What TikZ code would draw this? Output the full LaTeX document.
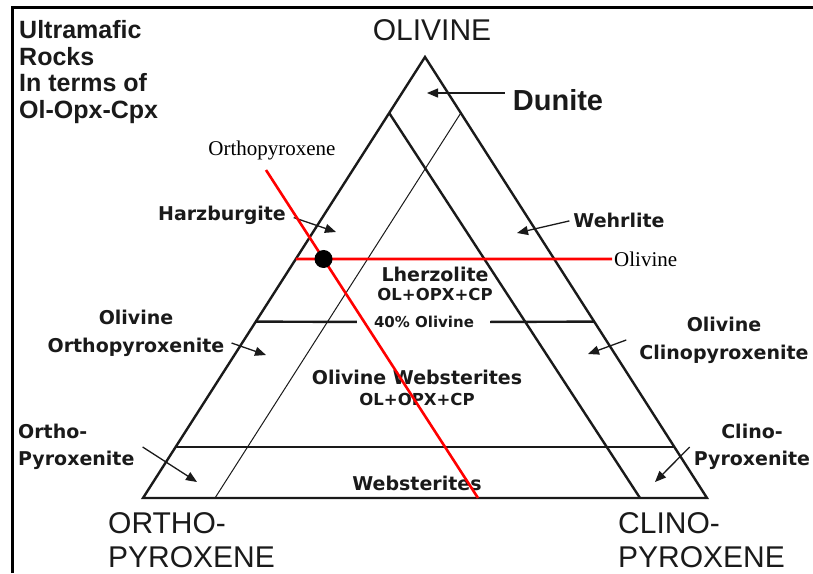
\documentclass[tikz,border=0pt]{standalone}
\usepackage{fontspec}
\setmainfont{Liberation Sans}
\newfontfamily\vfont{DejaVu Sans}
\newfontfamily\tfont{Liberation Serif}
\usepackage{tikz}
\usetikzlibrary{arrows.meta,calc,positioning}
\definecolor{cInk}{HTML}{1A1A1A}
\definecolor{cRed}{HTML}{FF0000}
\tikzset{
  >={Triangle[length=11pt,width=9pt]},
  frame/.style  ={black,line width=3pt},
  edge/.style   ={cInk,line width=2.4pt},
  fine/.style   ={cInk,line width=1pt},
  pointer/.style={->,cInk,line width=1.3pt},
  redline/.style={cRed,line width=2.6pt},
  big/.style    ={text=cInk,inner sep=0pt,align=left,font=\fontsize{30}{34}\selectfont},
  rock/.style   ={text=cInk,inner sep=0pt,align=center,font=\vfont\bfseries\fontsize{19}{28}\selectfont},
  mix/.style    ={text=cInk,inner sep=0pt,font=\vfont\bfseries\fontsize{16.5}{20}\selectfont},
  redtag/.style ={black,inner sep=0pt,font=\tfont\fontsize{21}{24}\selectfont},
  dot/.style    ={circle,fill=black,inner sep=0pt,minimum size=18pt},
}
\begin{document}
\begin{tikzpicture}[x=1pt,y=-1pt]
  \useasboundingbox (0,0) rectangle (813,573);
  \draw[frame] (12,573) -- (12,7) -- (813,7);

  % corners
  \coordinate (ol)  at (425,57);
  \coordinate (opx) at (143,498);
  \coordinate (cpx) at (707,498);
  \draw[edge,line join=miter] (ol) -- (opx) -- (cpx) -- cycle;

  % field boundaries
  \coordinate (d1) at ($(ol)!0.127!(opx)$);
  \coordinate (d2) at ($(ol)!0.127!(cpx)$);
  \coordinate (b1) at (640,498);
  \coordinate (b2) at (215,498);
  \draw[edge] (d1) -- (b1);
  \draw[fine] (d2) -- (b2);
  \coordinate (t1) at ($(opx)!0.115!(ol)$);
  \coordinate (t2) at ($(cpx)!0.115!(ol)$);
  \draw[edge] (t1) -- (t2);
  \coordinate (f1) at ($(opx)!0.4!(ol)$);
  \coordinate (f2) at ($(cpx)!0.4!(ol)$);
  \node[mix,font=\vfont\bfseries\fontsize{15}{18}\selectfont] (forty) at (424,322) {40\% Olivine};
  \draw[edge,shorten >=17pt] (f1) -- (forty.west);
  \draw[edge,shorten >=16pt] (f2) -- (forty.east);

  % end members and title
  \node[big] (olv) at (432,30) {OLIVINE};
  \node[big,anchor=west] (ortho) at (108,540) {ORTHO-\\PYROXENE};
  \node[big,anchor=west] (clino) at (618,540) {CLINO-\\PYROXENE};
  \node[big,anchor=west,font=\bfseries\fontsize{25}{26.5}\selectfont] (title) at (19,72)
    {Ultramafic\\Rocks\\In terms of\\Ol-Opx-Cpx};

  % rock names
  \node[big,font=\bfseries\fontsize{29}{34}\selectfont] (dun) at (558,100) {Dunite};
  \node[rock] (harz) at (222,215) {Harzburgite};
  \node[rock] (wehr) at (619,220) {Wehrlite};
  \node[rock] (lherz) at (435,274) {Lherzolite};
  \node[mix,below=6pt of lherz] (mix1) {OL+OPX+CP};
  \node[rock] (olweb) at (417,377) {Olivine Websterites};
  \node[mix,below=8pt of olweb] (mix2) {OL+OPX+CP};
  \node[rock] (webs) at (417,483) {Websterites};
  \node[rock] (oopx) at (136,333) {Olivine\\Orthopyroxenite};
  \node[rock] (ocpx) at (724,340) {Olivine\\Clinopyroxenite};
  \node[rock,align=left,anchor=west,font=\vfont\bfseries\fontsize{19}{27}\selectfont] (opxr) at (18,447) {Ortho-\\Pyroxenite};
  \node[rock,font=\vfont\bfseries\fontsize{19}{27}\selectfont] (cpxr) at (752,447) {Clino-\\Pyroxenite};

  % pointers
  \coordinate (dunTip)  at (427,93);
  \coordinate (harzTip) at (336,232);
  \coordinate (wehrTip) at (517,233);
  \coordinate (oopxTip) at (266,355);
  \coordinate (ocpxTip) at (588,354);
  \coordinate (opxrTip) at (197,482);
  \coordinate (cpxrTip) at (655,482);
  \draw[pointer,shorten <=8pt] (dun.west |- dunTip) -- (dunTip);
  \draw[pointer,shorten <=8pt] (harz.east) -- (harzTip);
  \draw[pointer,shorten <=4pt] (wehr.west) -- (wehrTip);
  \draw[pointer] ([xshift=7pt,yshift=-10pt]oopx.east) -- (oopxTip);
  \draw[pointer] ([xshift=-13pt]ocpx.west) -- (ocpxTip);
  \draw[pointer] ([xshift=8pt]opxr.east) -- (opxrTip);
  \draw[pointer] ([xshift=-4pt]cpxr.west) -- (cpxrTip);

  % sample point
  \node[redtag,anchor=base] (opxLbl) at (272,155) {Orthopyroxene};
  \coordinate (rTop) at (266,170);
  \coordinate (rBot) at (478,498);
  \coordinate (hLeft) at ($(opx)!0.542!(ol)$);
  \coordinate (hRight) at (612,259);
  \draw[redline] (rTop) -- (rBot);
  \draw[redline] (hLeft) -- (hRight);
  \node[redtag,anchor=west,inner sep=2pt] (olLbl) at (hRight) {Olivine};
  \node[dot] (sample) at (intersection of rTop--rBot and hLeft--hRight) {};
\end{tikzpicture}
\end{document}
